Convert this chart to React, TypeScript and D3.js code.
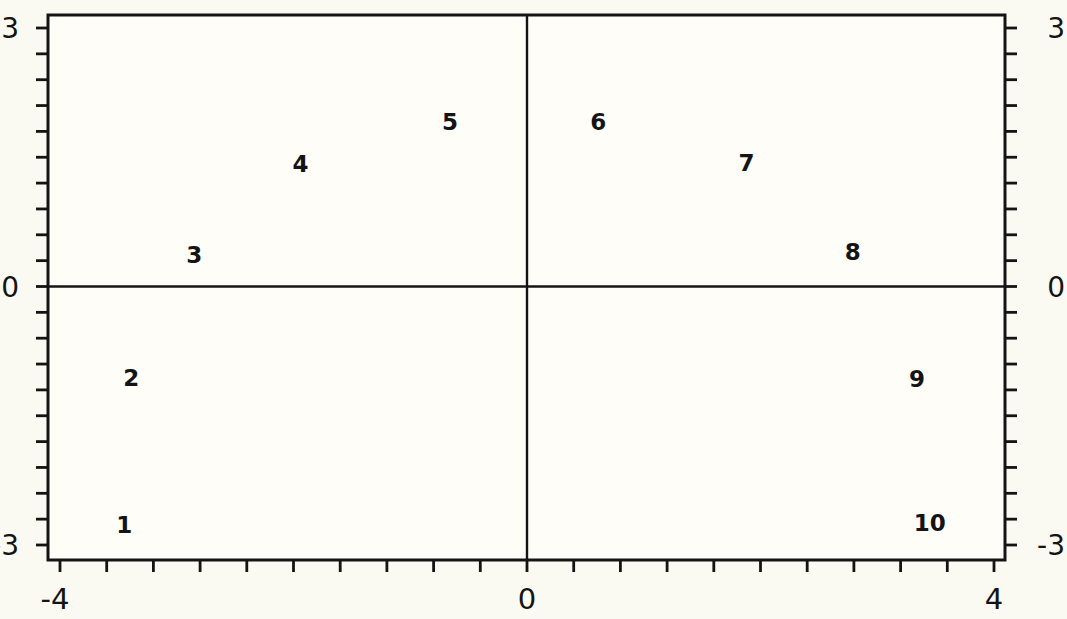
import React from "react";
import * as d3 from "d3";

// Point labels and their coordinates
const pointLabels = ["1", "2", "3", "4", "5", "6", "7", "8", "9", "10"];
const pointX = [-3.45, -3.39, -2.85, -1.94, -0.66, 0.61, 1.88, 2.79, 3.34, 3.45];
const pointY = [-2.77, -1.06, 0.37, 1.42, 1.91, 1.91, 1.44, 0.4, -1.07, -2.74];

// Axis ticks
const xTicks = d3.range(-4, 4.0001, 0.4).map((v) => +v.toFixed(2));
const yTicks = d3.range(-3, 3.0001, 0.3).map((v) => +v.toFixed(2));
const xTickLabels = [-4, 0, 4];
const yTickLabels = [-3, 0, 3];

const W = 1067;
const H = 619;
const INK = "#141414";
const FONT = "'DejaVu Sans', Verdana, sans-serif";

export default function App() {
  const x = d3.scaleLinear().domain([-4, 4]).range([60, 994]);
  const y = d3.scaleLinear().domain([-3, 3]).range([545, 28]);

  const left = x(-4) - 12;
  const right = x(4) + 11;
  const top = y(3) - 13;
  const bottom = y(-3) + 15;
  const tickLen = 12;

  const fmt = (v: number) => (v < 0 ? "-" + Math.abs(v) : String(v));

  return (
    <div style={{ position: "absolute", left: 0, top: 0 }}>
      <svg width={W} height={H} style={{ display: "block", background: "#fbfaf2" }}>
        <rect x={0} y={0} width={W} height={H} fill="#fbfaf2" />

        {/* frame */}
        <rect
          x={left}
          y={top}
          width={right - left}
          height={bottom - top}
          fill="#fefdf8"
          stroke={INK}
          strokeWidth={3}
        />

        {/* zero lines */}
        <line x1={x(0)} x2={x(0)} y1={top} y2={bottom} stroke={INK} strokeWidth={2.4} />
        <line x1={left} x2={right} y1={y(0)} y2={y(0)} stroke={INK} strokeWidth={2.4} />

        {/* bottom ticks */}
        {xTicks.map((t) => (
          <line
            key={"xt" + t}
            x1={x(t)}
            x2={x(t)}
            y1={bottom}
            y2={bottom + tickLen}
            stroke={INK}
            strokeWidth={2.8}
          />
        ))}
        {xTickLabels.map((t) => (
          <text
            key={"xl" + t}
            x={x(t) - (t < 0 ? 5 : 0)}
            y={609}
            textAnchor="middle"
            fontFamily={FONT}
            fontSize={29}
            fill={INK}
          >
            {fmt(t)}
          </text>
        ))}

        {/* left and right ticks */}
        {yTicks.map((t) => (
          <g key={"yt" + t}>
            <line x1={left - tickLen} x2={left} y1={y(t)} y2={y(t)} stroke={INK} strokeWidth={2.8} />
            <line x1={right} x2={right + tickLen} y1={y(t)} y2={y(t)} stroke={INK} strokeWidth={2.8} />
          </g>
        ))}
        {yTickLabels.map((t) => (
          <g key={"yl" + t}>
            <text
              x={19}
              y={y(t)}
              dy="0.36em"
              textAnchor="end"
              fontFamily={FONT}
              fontSize={28}
              fill={INK}
            >
              {fmt(t)}
            </text>
            <text
              x={1065}
              y={y(t)}
              dy="0.36em"
              textAnchor="end"
              fontFamily={FONT}
              fontSize={28}
              fill={INK}
            >
              {fmt(t)}
            </text>
          </g>
        ))}

        {/* point labels */}
        {pointLabels.map((lab, i) => (
          <text
            key={"p" + lab}
            x={x(pointX[i])}
            y={y(pointY[i])}
            dy="0.36em"
            textAnchor="middle"
            fontFamily={FONT}
            fontSize={23}
            fontWeight="bold"
            fill={INK}
          >
            {lab}
          </text>
        ))}
      </svg>
    </div>
  );
}
